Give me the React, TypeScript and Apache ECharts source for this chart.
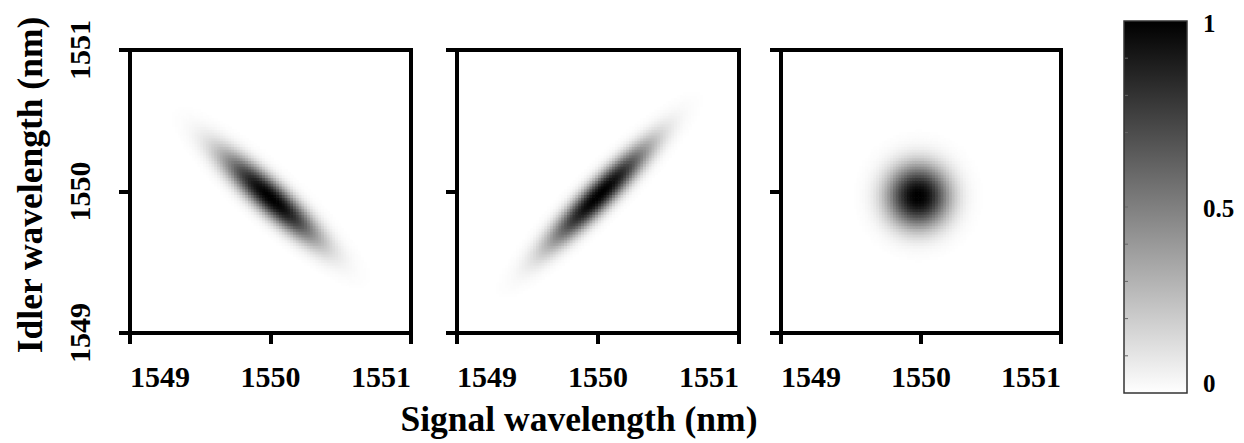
import React, { useEffect, useRef } from "react";
import * as echarts from "echarts";

// Axis ticks (nm)
const X_TICKS = [1549, 1550, 1551];
const Y_TICKS = [1549, 1550, 1551];
const AXIS_MIN = 1549;
const AXIS_MAX = 1551;

// Joint spectral intensity blobs (one entry per panel)
const BLOB_CENTER_X = [1550.0, 1550.01, 1549.98];
const BLOB_CENTER_Y = [1549.96, 1549.98, 1549.97];
const BLOB_SIGMA_MAJOR = [0.31, 0.34, 0.155];
const BLOB_SIGMA_MINOR = [0.075, 0.068, 0.155];
const BLOB_ANGLE_DEG = [-42, 45, 0];
const BLOB_SHAPE_POWER = [1.15, 1.15, 1.15];
const BLOB_PEAK = [1, 1, 1];

// Colour scale
const SCALE_MIN = 0;
const SCALE_MAX = 1;
const SCALE_COLORS = ["#ffffff", "#000000"];
const SCALE_LABELS = ["1", "0.5", "0"];
const SCALE_MINOR_TICKS = [0.1, 0.2, 0.3, 0.4, 0.5, 0.6, 0.7, 0.8, 0.9];

const STEP = 0.02;

function panelData(i: number): number[][] {
  const out: number[][] = [];
  const th = (BLOB_ANGLE_DEG[i] * Math.PI) / 180;
  const c = Math.cos(th);
  const s = Math.sin(th);
  const n = Math.round((AXIS_MAX - AXIS_MIN) / STEP);
  for (let a = 0; a < n; a++) {
    for (let b = 0; b < n; b++) {
      const x = AXIS_MIN + (a + 0.5) * STEP;
      const y = AXIS_MIN + (b + 0.5) * STEP;
      const dx = x - BLOB_CENTER_X[i];
      const dy = y - BLOB_CENTER_Y[i];
      const u = dx * c + dy * s;
      const v = -dx * s + dy * c;
      const q =
        (u * u) / (2 * BLOB_SIGMA_MAJOR[i] ** 2) +
        (v * v) / (2 * BLOB_SIGMA_MINOR[i] ** 2);
      const val = BLOB_PEAK[i] * Math.exp(-Math.pow(q, BLOB_SHAPE_POWER[i]));
      if (val > 0.004) out.push([x, y, val]);
    }
  }
  return out;
}

const FONT = "Liberation Serif";
const GRIDS = [
  { left: 130, top: 50, width: 281, height: 283 },
  { left: 457, top: 50, width: 282, height: 283 },
  { left: 781, top: 50, width: 280, height: 283 },
];
const BAR = { x: 1124, y: 21, w: 63, h: 372 };

export default function App() {
  const ref = useRef<HTMLDivElement>(null);
  useEffect(() => {
    if (!ref.current) return;
    const chart = echarts.init(ref.current, null, { renderer: "svg" });
    const labelStyle = {
      fontFamily: FONT,
      fontWeight: "bold" as const,
      fontSize: 30,
      color: "#000",
    };
    const option: any = {
      animation: false,
      backgroundColor: "#ffffff",
      grid: GRIDS.map((g) => ({
        ...g,
        show: true,
        borderColor: "#000",
        borderWidth: 4,
        backgroundColor: "transparent",
      })),
      xAxis: GRIDS.map((_, i) => ({
        type: "value",
        gridIndex: i,
        min: AXIS_MIN,
        max: AXIS_MAX,
        interval: 1,
        splitLine: { show: false },
        axisLine: { show: true, lineStyle: { color: "#000", width: 4 } },
        axisTick: { show: true, length: 11, lineStyle: { color: "#000", width: 4 } },
        axisLabel: {
          ...labelStyle,
          margin: 28,
          alignMinLabel: "left",
          alignMaxLabel: "right",
          formatter: (v: number) => (X_TICKS.includes(v) ? String(v) : ""),
        },
      })),
      yAxis: GRIDS.map((_, i) => ({
        type: "value",
        gridIndex: i,
        min: AXIS_MIN,
        max: AXIS_MAX,
        interval: 1,
        splitLine: { show: false },
        axisLine: { show: true, lineStyle: { color: "#000", width: 4 } },
        axisTick: { show: true, length: 11, lineStyle: { color: "#000", width: 4 } },
        axisLabel: {
          ...labelStyle,
          show: i === 0,
          rotate: 90,
          margin: 36,
          formatter: (v: number) => (Y_TICKS.includes(v) ? String(v) : ""),
        },
      })),
      visualMap: {
        show: false,
        type: "continuous",
        min: SCALE_MIN,
        max: SCALE_MAX,
        dimension: 2,
        seriesIndex: [0, 1, 2],
        inRange: { color: SCALE_COLORS },
      },
      series: GRIDS.map((_, i) => ({
        type: "custom",
        xAxisIndex: i,
        yAxisIndex: i,
        dimensions: ["x", "y", "v"],
        encode: { x: 0, y: 1 },
        data: panelData(i),
        renderItem: (params: any, api: any) => {
          const x = api.value(0);
          const y = api.value(1);
          const p0 = api.coord([x - STEP / 2, y + STEP / 2]);
          const p1 = api.coord([x + STEP / 2, y - STEP / 2]);
          return {
            type: "rect",
            shape: {
              x: p0[0],
              y: p0[1],
              width: p1[0] - p0[0] + 0.7,
              height: p1[1] - p0[1] + 0.7,
            },
            style: { fill: api.visual("color") },
          };
        },
      })),
      graphic: [
        {
          type: "text",
          x: 579,
          y: 419,
          style: {
            text: "Signal wavelength (nm)",
            fontFamily: FONT,
            fontWeight: "bold",
            fontSize: 35.5,
            fill: "#000",
            align: "center",
            verticalAlign: "middle",
          },
        },
        {
          type: "text",
          x: 30,
          y: 185,
          rotation: Math.PI / 2,
          style: {
            text: "Idler wavelength (nm)",
            fontFamily: FONT,
            fontWeight: "bold",
            fontSize: 35.5,
            fill: "#000",
            align: "center",
            verticalAlign: "middle",
          },
        },
        {
          type: "rect",
          shape: { x: BAR.x, y: BAR.y, width: BAR.w, height: BAR.h },
          style: {
            fill: {
              type: "linear",
              x: 0,
              y: 0,
              x2: 0,
              y2: 1,
              colorStops: [
                { offset: 0, color: SCALE_COLORS[1] },
                { offset: 1, color: SCALE_COLORS[0] },
              ],
            },
            stroke: "#333",
            lineWidth: 1.5,
          },
        },
        ...SCALE_MINOR_TICKS.map((t) => ({
          type: "line",
          shape: {
            x1: BAR.x + 1,
            y1: BAR.y + BAR.h * (1 - t),
            x2: BAR.x + 4,
            y2: BAR.y + BAR.h * (1 - t),
          },
          style: { stroke: "#666", lineWidth: 1 },
        })),
        ...SCALE_LABELS.map((t, k) => ({
          type: "text",
          x: 1203,
          y: 23 + (k * (383 - 23)) / (SCALE_LABELS.length - 1) + (k === 1 ? 5 : 0),
          style: {
            text: t,
            fontFamily: FONT,
            fontWeight: "bold",
            fontSize: 25,
            fill: "#000",
            align: "left",
            verticalAlign: "middle",
          },
        })),
      ],
    };
    chart.setOption(option);
    return () => chart.dispose();
  }, []);
  return (
    <div
      ref={ref}
      style={{ position: "absolute", left: 0, top: 0, width: 1244, height: 443 }}
    />
  );
}
